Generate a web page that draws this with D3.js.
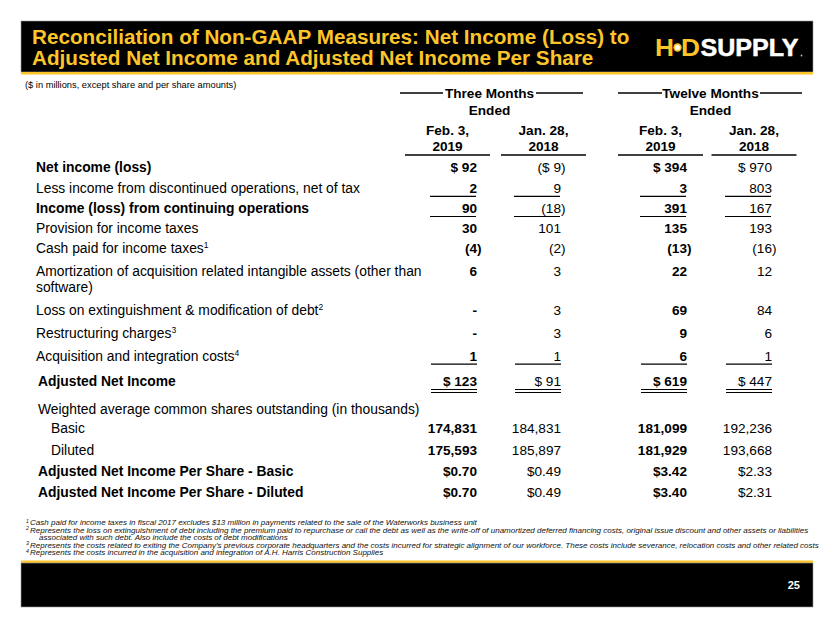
<!DOCTYPE html>
<html>
<head>
<meta charset="utf-8">
<script src="https://cdn.jsdelivr.net/npm/d3@7"></script>
<style>
  html, body { margin: 0; padding: 0; background: #fff; }
  svg { display: block; font-family: Arial, "Liberation Sans", sans-serif; }
</style>
</head>
<body>
<svg id="chart" width="830" height="623"></svg>
<script>
// ---------- DATA ----------
const titleLines = ["Reconciliation of Non-GAAP Measures: Net Income (Loss) to",
                    "Adjusted Net Income and Adjusted Net Income Per Share"];
const subtitle = "($ in millions, except share and per share amounts)";
const groupLabels = ["Three Months", "Twelve Months"];
const groupSub = "Ended";
const columnHeaders = [["Feb. 3,", "2019"], ["Jan. 28,", "2018"], ["Feb. 3,", "2019"], ["Jan. 28,", "2018"]];
const columnBold = [true, false, true, false];

const rowLabels = [
  ["Net income (loss)"],
  ["Less income from discontinued operations, net of tax"],
  ["Income (loss) from continuing operations"],
  ["Provision for income taxes"],
  ["Cash paid for income taxes", "1"],
  ["Amortization of acquisition related intangible assets (other than", null, "software)"],
  ["Loss on extinguishment & modification of debt", "2"],
  ["Restructuring charges", "3"],
  ["Acquisition and integration costs", "4"],
  ["Adjusted Net Income"],
  ["Weighted average common shares outstanding (in thousands)"],
  ["Basic"],
  ["Diluted"],
  ["Adjusted Net Income Per Share - Basic"],
  ["Adjusted Net Income Per Share - Diluted"]
];
const rowBold   = [true, false, true, false, false, false, false, false, false, true, false, false, false, true, true];
const rowIndent = [0, 0, 0, 0, 0, 0, 0, 0, 0, 1, 1, 2, 2, 1, 1];
const rowFormat = ["usd", "num", "num", "num", "num", "num", "num", "num", "num", "usd", "none", "int", "int", "eps", "eps"];
// rule drawn below the row: 1 = single, 2 = double
const rowRule   = [0, 1, 1, 0, 0, 0, 0, 0, 1, 2, 0, 0, 0, 0, 0];

const threeMonths2019  = [92, 2, 90, 30, -4, 6, 0, 0, 1, 123, null, 174831, 175593, 0.70, 0.70];
const threeMonths2018  = [-9, 9, -18, 101, -2, 3, 3, 3, 1, 91, null, 184831, 185897, 0.49, 0.49];
const twelveMonths2019 = [394, 3, 391, 135, -13, 22, 69, 9, 6, 619, null, 181099, 181929, 3.42, 3.40];
const twelveMonths2018 = [970, 803, 167, 193, -16, 12, 84, 6, 1, 447, null, 192236, 193668, 2.33, 2.31];
const columns = [threeMonths2019, threeMonths2018, twelveMonths2019, twelveMonths2018];

const footnotes = [
  ["1", "Cash paid for income taxes in fiscal 2017 excludes $13 million in payments related to the sale of the Waterworks business unit"],
  ["2", "Represents the loss on extinguishment of debt including the premium paid to repurchase or call the debt as well as the write-off of unamortized deferred financing costs, original issue discount and other assets or liabilities"],
  ["", "associated with such debt. Also include the costs of debt modifications"],
  ["3", "Represents the costs related to exiting the Company\u2019s previous corporate headquarters and the costs incurred for strategic alignment of our workforce. These costs include severance, relocation costs and other related costs"],
  ["4", "Represents the costs incurred in the acquisition and integration of A.H. Harris Construction Supplies"]
];
const pageNumber = "25";

// ---------- LAYOUT ----------
const W = 830, H = 623;
const YELLOW = "#FDC52A";
const rowSlot = [0, 1.02, 2.0, 2.98, 3.95, 5.07, 6.98, 8.1, 9.2, 10.44, 11.8, 12.73, 13.8, 14.83, 15.85];
const yRow = d3.scaleLinear().domain([0, 1]).range([167, 187.5]);
const colX = d3.scaleOrdinal().domain([0, 1, 2, 3]).range([477, 561, 687, 772]);
const colCenter = d3.scaleOrdinal().domain([0, 1, 2, 3]).range([447.5, 543.5, 660.5, 754]);
const groupCenter = d3.scaleOrdinal().domain([0, 1]).range([489.5, 710.5]);
const indentX = d3.scaleOrdinal().domain([0, 1, 2]).range([36, 38, 51]);
const FS = 13.6;
const LFS = 13.85;

const svg = d3.select("#chart");
svg.append("rect").attr("width", W).attr("height", H).attr("fill", "#fff");

// Header band
svg.append("rect").attr("x", 21).attr("y", 21).attr("width", 792).attr("height", 51)
  .attr("fill", "#000").attr("stroke", "#9a9a9a").attr("stroke-width", 0.6);
svg.append("rect").attr("x", 21).attr("y", 72).attr("width", 792).attr("height", 2.5).attr("fill", YELLOW);
svg.selectAll("text.title").data(titleLines).join("text")
  .attr("class", "title")
  .attr("x", 32).attr("y", (d, i) => 44 + i * 21)
  .attr("fill", YELLOW).attr("font-weight", "bold").attr("font-size", 20.7)
  .text(d => d);

// Logo
const logo = svg.append("g");
logo.append("text").attr("x", 655).attr("y", 56).attr("fill", YELLOW)
  .attr("font-weight", "bold").attr("font-size", 23.5).attr("textLength", 19).attr("lengthAdjust", "spacingAndGlyphs").text("H");
logo.append("circle").attr("cx", 677.5).attr("cy", 47.5).attr("r", 4.2).attr("fill", YELLOW);
logo.append("circle").attr("cx", 677.5).attr("cy", 47.5).attr("r", 2.6).attr("fill", "#fff");
logo.append("text").attr("x", 681).attr("y", 56).attr("fill", YELLOW)
  .attr("font-weight", "bold").attr("font-size", 23.5).attr("textLength", 19).attr("lengthAdjust", "spacingAndGlyphs").text("D");
logo.append("text").attr("x", 700.5).attr("y", 56).attr("fill", "#fff")
  .attr("font-weight", "bold").attr("font-size", 23.5).attr("textLength", 98).attr("lengthAdjust", "spacingAndGlyphs")
  .attr("stroke", "#fff").attr("stroke-width", 0.5).text("SUPPLY");
logo.append("circle").attr("cx", 801.5).attr("cy", 55.5).attr("r", 0.9).attr("fill", "#bbb");

// Subtitle
svg.append("text").attr("x", 25).attr("y", 87.5).attr("font-size", 9.3).attr("fill", "#000").text(subtitle);

// Column group headers
const groupLineSpans = [[[400, 443], [536, 583]], [[618, 662], [760, 802]]];
groupLabels.forEach((g, gi) => {
  svg.append("text").attr("x", groupCenter(gi)).attr("y", 98).attr("text-anchor", "middle")
    .attr("font-weight", "bold").attr("font-size", FS).text(g);
  svg.append("text").attr("x", groupCenter(gi)).attr("y", 115).attr("text-anchor", "middle")
    .attr("font-weight", "bold").attr("font-size", FS).text(groupSub);
  groupLineSpans[gi].forEach(s => {
    svg.append("line").attr("x1", s[0]).attr("x2", s[1]).attr("y1", 93).attr("y2", 93)
      .attr("stroke", "#000").attr("stroke-width", 1.6);
  });
});
columnHeaders.forEach((h, ci) => {
  h.forEach((t, li) => {
    svg.append("text").attr("x", colCenter(ci)).attr("y", 134.5 + li * 16.5).attr("text-anchor", "middle")
      .attr("font-weight", "bold").attr("font-size", FS).text(t);
  });
  svg.append("line").attr("x1", colCenter(ci) - 42.5).attr("x2", colCenter(ci) + 42.5)
    .attr("y1", 155).attr("y2", 155).attr("stroke", "#000").attr("stroke-width", 1.6);
});

// Row labels
rowLabels.forEach((lab, ri) => {
  const y = yRow(rowSlot[ri]) + 5;
  const t = svg.append("text").attr("x", indentX(rowIndent[ri])).attr("y", y)
    .attr("font-size", LFS).attr("font-weight", rowBold[ri] ? "bold" : "normal").attr("fill", "#000");
  t.append("tspan").text(lab[0]);
  if (lab[1]) t.append("tspan").attr("font-size", 8.5).attr("dy", -5).text(lab[1]);
  if (lab[2]) {
    svg.append("text").attr("x", indentX(rowIndent[ri])).attr("y", y + 16.5)
      .attr("font-size", LFS).attr("font-weight", rowBold[ri] ? "bold" : "normal").text(lab[2]);
  }
});

// Values
const fmtInt = d3.format(",");
function formatValue(v, f) {
  if (v === null || f === "none") return null;
  if (f === "eps") return "$" + d3.format(".2f")(v);
  if (f === "int") return fmtInt(v);
  if (v === 0) return "-";
  const a = Math.abs(v);
  const body = f === "usd" ? "$ " + fmtInt(a) : fmtInt(a);
  return v < 0 ? "(" + body + ")" : body;
}
columns.forEach((col, ci) => {
  col.forEach((v, ri) => {
    const s = formatValue(v, rowFormat[ri]);
    if (s === null) return;
    const neg = v < 0;
    svg.append("text")
      .attr("x", colX(ci) + (neg ? 4.5 : 0))
      .attr("y", yRow(rowSlot[ri]) + 5)
      .attr("text-anchor", "end")
      .attr("font-size", FS)
      .attr("font-weight", columnBold[ci] ? "bold" : "normal")
      .text(s);
  });
  // rules
  rowRule.forEach((r, ri) => {
    if (!r) return;
    const yb = yRow(rowSlot[ri]) + 8.5;
    const x2 = colX(ci) - (ri < 3 ? 1 : 0);
    const x1 = x2 - 46;
    svg.append("line").attr("x1", x1).attr("x2", x2).attr("y1", yb).attr("y2", yb)
      .attr("stroke", "#000").attr("stroke-width", 1.1);
    if (r === 2) {
      svg.append("line").attr("x1", x1).attr("x2", x2).attr("y1", yb + 3).attr("y2", yb + 3)
        .attr("stroke", "#000").attr("stroke-width", 1.1);
    }
  });
});

// Footnotes
const fnY = [525, 532.5, 540, 547.5, 555];
footnotes.forEach((fn, i) => {
  const t = svg.append("text").attr("x", fn[0] ? 26 : 39).attr("y", fnY[i])
    .attr("font-size", 8.0).attr("font-style", "italic").attr("fill", "#111");
  if (fn[0]) t.append("tspan").attr("font-size", 5.2).attr("dy", -2.5).text(fn[0]);
  t.append("tspan").attr("dy", fn[0] ? 2.5 : 0).attr("dx", fn[0] ? 1.2 : 0).text(fn[1]);
});

// Footer band
svg.append("rect").attr("x", 21).attr("y", 560.5).attr("width", 792).attr("height", 2.5).attr("fill", YELLOW);
svg.append("rect").attr("x", 21).attr("y", 563).attr("width", 792).attr("height", 44)
  .attr("fill", "#000").attr("stroke", "#9a9a9a").attr("stroke-width", 0.6);
svg.append("text").attr("x", 800).attr("y", 588.5).attr("text-anchor", "end")
  .attr("fill", "#fff").attr("font-weight", "bold").attr("font-size", 11).text(pageNumber);
</script>
</body>
</html>
